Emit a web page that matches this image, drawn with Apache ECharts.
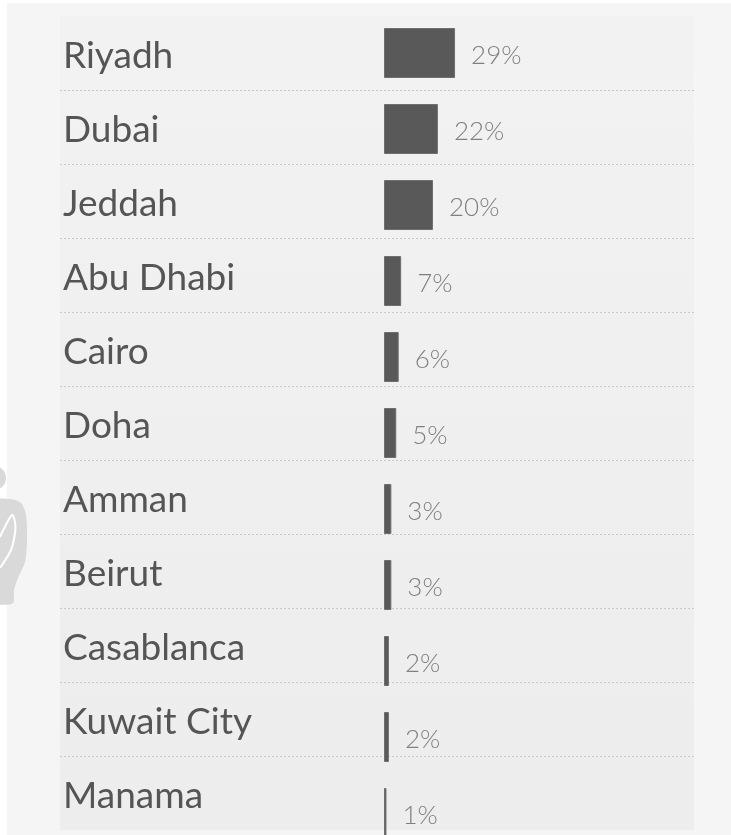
<!DOCTYPE html>
<html>
<head>
<meta charset="utf-8">
<script src="https://cdn.jsdelivr.net/npm/echarts@6/dist/echarts.min.js"></script>
<style>
  html, body { margin: 0; padding: 0; background: #ffffff; }
  #chart { width: 731px; height: 835px; }
</style>
</head>
<body>
<div id="chart"></div>
<script>
// Share of respondents by city (percent)
const cities = ['Riyadh', 'Dubai', 'Jeddah', 'Abu Dhabi', 'Cairo', 'Doha', 'Amman', 'Beirut', 'Casablanca', 'Kuwait City', 'Manama'];
const shares = [29, 22, 20, 7, 6, 5, 3, 3, 2, 2, 1];

const chart = echarts.init(document.getElementById('chart'), null, { renderer: 'canvas' });

const option = {
  backgroundColor: '#ffffff',
  animation: false,
  graphic: [
    // outer panel
    { type: 'rect', z: -10, shape: { x: 7, y: 3, width: 724, height: 832 }, style: { fill: '#f5f5f5' } },
    // faint person icon peeking in from the left edge
    { type: 'circle', z: -5, shape: { cx: -6, cy: 478, r: 12 }, style: { fill: '#d9d9d9' } },
    { type: 'polygon', z: -5,
      shape: {
        points: [[-4, 501], [10, 499], [21, 503], [26, 515], [27, 540], [25, 562], [18, 578], [14, 590], [13, 603], [0, 605], [-4, 605]],
        smooth: 0.3
      },
      style: { fill: '#d9d9d9' } },
    { type: 'polyline', z: -4,
      shape: { points: [[0, 537], [12, 515], [15, 522], [15, 533], [11, 550], [0, 568]], smooth: 0.3 },
      style: { fill: null, stroke: '#ffffff', lineWidth: 2 } }
  ],
  grid: [
    {
      left: 60, right: 37, top: 16, height: 814,
      outerBoundsMode: 'none',
      show: true, borderWidth: 0,
      backgroundColor: new echarts.graphic.LinearGradient(0, 0, 0, 1, [
        { offset: 0, color: '#f2f2f2' },
        { offset: 1, color: '#ededed' }
      ])
    },
    { left: 384, width: 245, top: 15, height: 836, outerBoundsMode: 'none' }
  ],
  xAxis: [
    { gridIndex: 0, type: 'value', show: false, min: 0, max: 1 },
    { gridIndex: 1, type: 'value', show: false, min: 0, max: 100 }
  ],
  yAxis: [
    {
      gridIndex: 0, type: 'category', inverse: true, data: cities,
      axisLine: { show: false }, axisTick: { show: false },
      axisLabel: {
        inside: true, align: 'left', margin: 3,
        formatter: '{city|{value}}',
        rich: {
          city: {
            padding: [7, 0, 0, 0],
            fontFamily: 'Lato', fontSize: 37, color: '#555555'
          }
        }
      },
      splitLine: {
        show: true, showMinLine: false, showMaxLine: false,
        lineStyle: { type: [2, 2], color: '#c9c9c9', width: 1 }
      }
    },
    {
      gridIndex: 1, type: 'category', inverse: true, data: cities, show: false
    }
  ],
  series: [
    {
      type: 'bar', xAxisIndex: 1, yAxisIndex: 1,
      data: shares, barWidth: 50,
      itemStyle: { color: '#595959', borderColor: '#6e6e6e', borderWidth: 1 },
      label: {
        show: true, position: 'right', distance: 16, offset: [0, 3],
        formatter: '{c}%',
        fontFamily: 'Lato', fontWeight: 300, fontSize: 26, color: '#808080'
      }
    }
  ]
};

chart.setOption(option);
</script>
</body>
</html>
